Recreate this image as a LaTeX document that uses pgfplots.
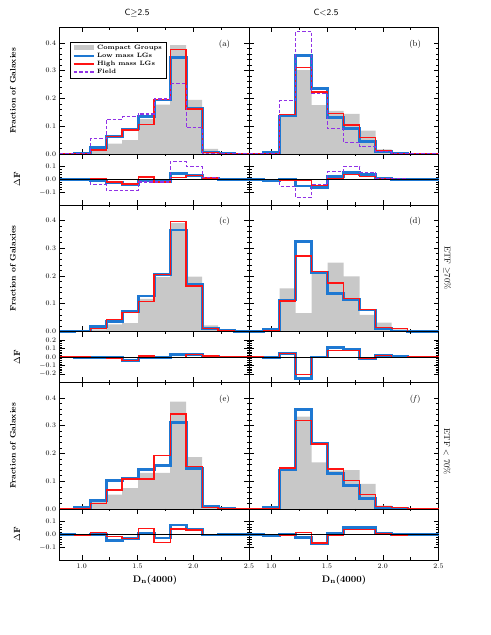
\documentclass[border=0pt]{standalone}
\usepackage{pgfplots}
\usepackage{pgfplotstable}
\pgfplotsset{compat=1.18}

\definecolor{cggray}{RGB}{200,200,200}
\definecolor{lgblue}{RGB}{30,120,210}
\definecolor{lgred}{RGB}{255,20,20}
\definecolor{fieldpurple}{RGB}{145,50,230}

% bin left edges, last row closes the final step
\pgfplotstableread{
x      cg     lo     hi     fi     dlo     dhi     dfi
0.800  0      0      0      0      0       0       0
0.932  0      0.003  0.001  0      -0.002  0       0
1.075  0.018  0.024  0.014  0.055  -0.006  0.004   -0.037
1.219  0.037  0.062  0.062  0.125  -0.025  -0.020  -0.088
1.362  0.050  0.090  0.086  0.134  -0.040  -0.036  -0.085
1.506  0.125  0.134  0.105  0.144  -0.009  0.020   -0.019
1.649  0.178  0.194  0.197  0.198  -0.016  -0.019  -0.020
1.793  0.392  0.348  0.376  0.253  0.044   0.016   0.139
1.936  0.195  0.164  0.162  0.095  0.031   0.033   0.100
2.080  0.018  0.007  0.006  0.003  0.011   0.012   0.015
2.223  0.003  0.002  0.002  0      0.001   0.001   0.003
2.367  0      0      0      0      0       0       0
2.500  0      0      0      0      0       0       0
}\tA
\pgfplotstableread{
x      cg     lo     hi     fi     dlo     dhi     dfi
0.800  0      0      0      0      0       0       0
0.932  0      0.005  0.002  0      -0.005  -0.002  0
1.075  0.138  0.137  0.143  0.192  0.001   -0.005  -0.054
1.219  0.302  0.353  0.312  0.442  -0.051  -0.010  -0.140
1.362  0.176  0.236  0.223  0.218  -0.060  -0.047  -0.042
1.506  0.155  0.132  0.145  0.092  0.023   0.010   0.060
1.649  0.144  0.092  0.104  0.041  0.052   0.040   0.103
1.793  0.084  0.044  0.060  0.026  0.040   0.024   0.058
1.936  0.017  0.008  0.012  0.008  0.009   0.005   0.009
2.080  0.005  0.003  0.003  0      0.002   0.002   0.005
2.223  0      0      0      0      0       0       0
2.367  0      0      0      0      0       0       0
2.500  0      0      0      0      0       0       0
}\tB
\pgfplotstableread{
x      cg     lo     hi     dlo     dhi
0.800  0      0      0      0       0
0.932  0      0.002  0.001  -0.002  -0.001
1.075  0.008  0.017  0.012  -0.009  -0.004
1.219  0.026  0.036  0.043  -0.010  -0.017
1.362  0.030  0.072  0.068  -0.042  -0.038
1.506  0.117  0.128  0.107  -0.011  0.010
1.649  0.196  0.206  0.206  -0.010  -0.010
1.793  0.390  0.365  0.396  0.025   -0.006
1.936  0.197  0.168  0.164  0.029   0.033
2.080  0.022  0.012  0.012  0.010   0.010
2.223  0.005  0.004  0.003  0.001   0.002
2.367  0      0      0      0       0
2.500  0      0      0      0       0
}\tC
\pgfplotstableread{
x      cg     lo     hi     dlo     dhi
0.800  0      0      0      0       0
0.932  0      0.006  0.002  -0.006  -0.002
1.075  0.155  0.113  0.110  0.042   0.045
1.219  0.066  0.323  0.272  -0.257  -0.206
1.362  0.212  0.212  0.215  0.000   -0.003
1.506  0.248  0.137  0.174  0.111   0.074
1.649  0.198  0.114  0.119  0.084   0.079
1.793  0.060  0.077  0.079  -0.017  -0.019
1.936  0.032  0.012  0.014  0.020   0.018
2.080  0.008  0.002  0.012  0.006   -0.004
2.223  0      0      0      0       0
2.367  0      0      0      0       0
2.500  0      0      0      0       0
}\tD
\pgfplotstableread{
x      cg     lo     hi     dlo     dhi
0.800  0      0      0      0       0
0.932  0      0.004  0.003  -0.004  -0.003
1.075  0.035  0.032  0.020  0.003   0.015
1.219  0.052  0.102  0.068  -0.050  -0.018
1.362  0.075  0.110  0.108  -0.034  -0.030
1.506  0.130  0.141  0.108  0.011   0.047
1.649  0.130  0.156  0.192  -0.028  -0.064
1.793  0.386  0.312  0.342  0.074   0.044
1.936  0.187  0.147  0.152  0.040   0.035
2.080  0.004  0.008  0.006  -0.004  -0.002
2.223  0.002  0.002  0.002  0       0
2.367  0      0      0      0       0
2.500  0      0      0      0       0
}\tE
\pgfplotstableread{
x      cg     lo     hi     dlo     dhi
0.800  0      0      0      0       0
0.932  0      0.006  0.002  -0.006  -0.002
1.075  0.143  0.140  0.147  0.003   -0.004
1.219  0.332  0.357  0.318  -0.025  0.014
1.362  0.168  0.237  0.234  -0.069  -0.066
1.506  0.138  0.128  0.144  0.010   -0.006
1.649  0.140  0.084  0.102  0.056   0.038
1.793  0.090  0.038  0.052  0.052   0.038
1.936  0.012  0.006  0.008  0.006   0.004
2.080  0.002  0.002  0.005  0       -0.003
2.223  0      0      0      0       0
2.367  0      0      0      0       0
2.500  0      0      0      0       0
}\tF

\tikzset{panlab/.style={font=\fontsize{8.5}{9}\selectfont}}
\pgfplotsset{
  hpanel/.style={
    scale only axis, width=189.5bp,
    xmin=0.8, xmax=2.5,
    xtick={1,1.5,2,2.5}, minor x tick num=1,
    tick align=inside,
    major tick length=5bp, minor tick length=2.5bp,
    every tick/.style={black, line width=0.5bp},
    axis line style={line width=0.7bp},
    tick label style={font=\fontsize{7.5}{8}\selectfont,
      /pgf/number format/fixed, /pgf/number format/fixed zerofill,
      /pgf/number format/precision=1},
    anchor=south west, clip=false,
  },
  mainp/.style={hpanel, height=126.5bp, ymin=0, ymax=0.455,
    ytick={0,0.1,0.2,0.3,0.4}, minor y tick num=4, xticklabels={}},
  dfs/.style={hpanel, height=51bp, ymin=-0.2, ymax=0.2,
    ytick={-0.1,0,0.1}, minor y tick num=4},
  dfw/.style={hpanel, height=51bp, ymin=-0.3, ymax=0.3,
    ytick={-0.2,-0.1,0,0.1,0.2}, minor y tick num=4},
  cgst/.style={const plot, fill=cggray, draw=none,
    legend image code/.code={\fill[cggray] (0bp,-2.5bp) rectangle (20bp,2.5bp);}},
  lost/.style={const plot, lgblue, line width=2.8bp, no marks},
  hist/.style={const plot, lgred, line width=1.3bp, no marks},
  fist/.style={const plot, fieldpurple, line width=1.2bp, dash pattern=on 3.5bp off 2bp, no marks},
  zl/.style={sharp plot, black, line width=0.4bp, no marks},
}

\begin{document}
\begin{tikzpicture}
\path[use as bounding box] (0,0) rectangle (491bp,635bp);

% ---- row 1 ----
\begin{axis}[mainp, at={(59.5bp,481bp)},
  legend style={at={(0.055,0.888)}, anchor=north west, draw=black,
    line width=0.6bp, fill=white, font=\fontsize{6.3}{6.3}\selectfont\bfseries,
    inner xsep=2bp, inner ysep=1bp, row sep=-1.8bp},
  legend cell align=left,
  legend image code/.code={\draw[#1] plot coordinates {(0bp,0bp) (20bp,0bp)};}]
  \addplot[cgst] table[x=x,y=cg]{\tA} \closedcycle;
  \addlegendentry{Compact Groups}
  \addplot[lost] table[x=x,y=lo]{\tA};
  \addlegendentry{Low mass LGs}
  \addplot[hist] table[x=x,y=hi]{\tA};
  \addlegendentry{High mass LGs}
  \addplot[fist] table[x=x,y=fi]{\tA};
  \addlegendentry{Field}
  \node[panlab] at (axis cs:2.28,0.395) {(a)};
\end{axis}
\begin{axis}[dfs, at={(59.5bp,430bp)}, xticklabels={}]
  \addplot[lost] table[x=x,y=dlo]{\tA};
  \addplot[hist] table[x=x,y=dhi]{\tA};
  \addplot[fist] table[x=x,y=dfi]{\tA};
  \addplot[zl] coordinates {(0.8,0) (2.5,0)};
\end{axis}
\begin{axis}[mainp, at={(249bp,481bp)}, yticklabels={}]
  \addplot[cgst] table[x=x,y=cg]{\tB} \closedcycle;
  \addplot[lost] table[x=x,y=lo]{\tB};
  \addplot[hist] table[x=x,y=hi]{\tB};
  \addplot[fist] table[x=x,y=fi]{\tB};
  \node[panlab] at (axis cs:2.29,0.395) {(b)};
\end{axis}
\begin{axis}[dfs, at={(249bp,430bp)}, xticklabels={}, yticklabels={}]
  \addplot[lost] table[x=x,y=dlo]{\tB};
  \addplot[hist] table[x=x,y=dhi]{\tB};
  \addplot[fist] table[x=x,y=dfi]{\tB};
  \addplot[zl] coordinates {(0.8,0) (2.5,0)};
\end{axis}

% ---- row 2 ----
\begin{axis}[mainp, at={(59.5bp,303.5bp)}]
  \addplot[cgst] table[x=x,y=cg]{\tC} \closedcycle;
  \addplot[lost] table[x=x,y=lo]{\tC};
  \addplot[hist] table[x=x,y=hi]{\tC};
  \node[panlab] at (axis cs:2.28,0.395) {(c)};
\end{axis}
\begin{axis}[dfw, at={(59.5bp,252.5bp)}, xticklabels={}]
  \addplot[lost] table[x=x,y=dlo]{\tC};
  \addplot[hist] table[x=x,y=dhi]{\tC};
  \addplot[zl] coordinates {(0.8,0) (2.5,0)};
\end{axis}
\begin{axis}[mainp, at={(249bp,303.5bp)}, yticklabels={}]
  \addplot[cgst] table[x=x,y=cg]{\tD} \closedcycle;
  \addplot[lost] table[x=x,y=lo]{\tD};
  \addplot[hist] table[x=x,y=hi]{\tD};
  \node[panlab] at (axis cs:2.29,0.395) {(d)};
\end{axis}
\begin{axis}[dfw, at={(249bp,252.5bp)}, xticklabels={}, yticklabels={}]
  \addplot[lost] table[x=x,y=dlo]{\tD};
  \addplot[hist] table[x=x,y=dhi]{\tD};
  \addplot[zl] coordinates {(0.8,0) (2.5,0)};
\end{axis}

% ---- row 3 ----
\begin{axis}[mainp, at={(59.5bp,126bp)}]
  \addplot[cgst] table[x=x,y=cg]{\tE} \closedcycle;
  \addplot[lost] table[x=x,y=lo]{\tE};
  \addplot[hist] table[x=x,y=hi]{\tE};
  \node[panlab] at (axis cs:2.28,0.395) {(e)};
\end{axis}
\begin{axis}[dfs, at={(59.5bp,75bp)}]
  \addplot[lost] table[x=x,y=dlo]{\tE};
  \addplot[hist] table[x=x,y=dhi]{\tE};
  \addplot[zl] coordinates {(0.8,0) (2.5,0)};
\end{axis}
\begin{axis}[mainp, at={(249bp,126bp)}, yticklabels={}]
  \addplot[cgst] table[x=x,y=cg]{\tF} \closedcycle;
  \addplot[lost] table[x=x,y=lo]{\tF};
  \addplot[hist] table[x=x,y=hi]{\tF};
  \node[panlab] at (axis cs:2.29,0.395) {(\textit{f})};
\end{axis}
\begin{axis}[dfs, at={(249bp,75bp)}, yticklabels={}]
  \addplot[lost] table[x=x,y=dlo]{\tF};
  \addplot[hist] table[x=x,y=dhi]{\tF};
  \addplot[zl] coordinates {(0.8,0) (2.5,0)};
\end{axis}

% ---- labels ----
\node[font=\fontsize{9}{10}\selectfont\sffamily] at (137bp,622bp) {C$\geq$2.5};
\node[font=\fontsize{9}{10}\selectfont\sffamily] at (326bp,622bp) {C$<$2.5};
\foreach \yc in {544.25,366.75,189.25}
  \node[rotate=90, font=\fontsize{8}{9}\selectfont\bfseries] at (13bp,\yc bp) {Fraction of Galaxies};
\foreach \yc in {455.5,278,100.5}
  \node[rotate=90, font=\fontsize{9}{10}\selectfont\bfseries] at (17bp,\yc bp) {$\Delta$F};
\node[font=\fontsize{9.5}{10}\selectfont\bfseries] at (155bp,55bp) {D$_{\mathbf{n}}$(4000)};
\node[font=\fontsize{9.5}{10}\selectfont\bfseries] at (344bp,55bp) {D$_{\mathbf{n}}$(4000)};
\node[rotate=-90, font=\fontsize{8.5}{9}\selectfont] at (447bp,367bp) {ETF $\geq$70\%};
\node[rotate=-90, font=\fontsize{8.5}{9}\selectfont] at (447bp,183bp) {ETF $<$ 70\%};
\end{tikzpicture}
\end{document}
